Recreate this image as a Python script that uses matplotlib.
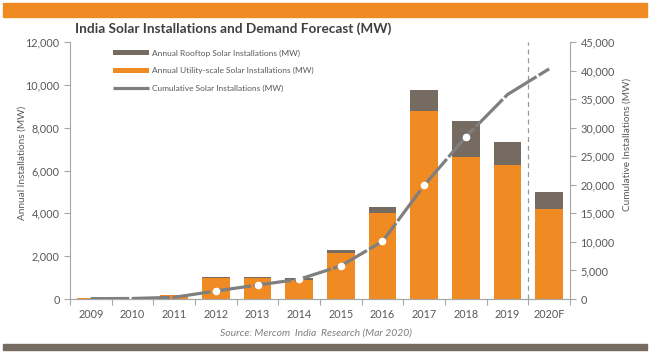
import matplotlib.pyplot as plt
import numpy as np

# data
years = ['2009', '2010', '2011', '2012', '2013', '2014', '2015', '2016', '2017', '2018', '2019', '2020F']
utility = [30, 10, 180, 960, 960, 880, 2130, 4030, 8800, 6650, 6250, 4200]
rooftop = [0, 0, 15, 50, 50, 90, 180, 280, 950, 1650, 1100, 800]
cumulative = [60, 90, 300, 1400, 2450, 3450, 5800, 10100, 19900, 28400, 35800, 40300]
marker_idx = [3, 4, 5, 6, 7, 8, 9]

orange = '#F08B23'
brown = '#766B60'
linegray = '#7F7F7F'
textgray = '#595959'

plt.rcParams['font.family'] = ['Lato', 'DejaVu Sans']

fig = plt.figure(figsize=(6.5, 3.52), dpi=100)
ax = fig.add_axes([70/650, 1 - 299/352, 500/650, 257/352])
ax2 = ax.twinx()

x = np.arange(len(years))
ax.bar(x, utility, width=0.66, color=orange, label='Annual Utility-scale Solar Installations (MW)', zorder=2)
ax.bar(x, rooftop, width=0.66, bottom=utility, color=brown, label='Annual Rooftop Solar Installations (MW)', zorder=2)

ax2.plot(x, cumulative, color=linegray, lw=2.3, dashes=(12, 0.8), solid_capstyle='butt',
         label='Cumulative Solar Installations (MW)', zorder=3)
ax2.plot(x[marker_idx], np.array(cumulative)[marker_idx], 'o', ms=4.5, mfc='white', mec='white', zorder=4)

ax.axvline(10.5, color='#999999', lw=0.9, ls=(0, (4, 3)), zorder=1)

ax.set_xlim(-0.5, 11.5)
ax.set_ylim(0, 12000)
ax2.set_ylim(0, 45000)
ax.set_yticks(np.arange(0, 12001, 2000))
ax2.set_yticks(np.arange(0, 45001, 5000))
ax.yaxis.set_major_formatter(plt.FuncFormatter(lambda v, p: f'{v:,.0f}'))
ax2.yaxis.set_major_formatter(plt.FuncFormatter(lambda v, p: f'{v:,.0f}'))
ax.set_xticks(x)
ax.set_xticklabels(years)
ax.set_xticks(np.arange(-0.5, 12, 1), minor=True)

for a in (ax, ax2):
    a.spines['top'].set_visible(False)
    for s in ('left', 'right', 'bottom'):
        a.spines[s].set_color('#A6A6A6')
        a.spines[s].set_linewidth(0.8)
    a.tick_params(colors='#A6A6A6', labelcolor=textgray, labelsize=7.8, length=4, width=0.8)
ax.tick_params(axis='x', which='major', length=0)
ax.tick_params(axis='x', which='minor', length=4, color='#A6A6A6', width=0.8)
ax.tick_params(axis='x', pad=7)
ax2.spines['left'].set_visible(False)
ax.spines['right'].set_visible(False)

ax.set_ylabel('Annual Installations (MW)', fontsize=7.2, color=textgray)
ax2.set_ylabel('Cumulative Installations (MW)', fontsize=7.2, color=textgray)
ax.yaxis.set_label_coords(-0.087, 0.53)
ax2.yaxis.set_label_coords(1.105, 0.6)

# legend in the custom order of the reference
h1, l1 = ax.get_legend_handles_labels()
h2, l2 = ax2.get_legend_handles_labels()
leg = ax.legend([h1[1], h1[0], h2[0]], [l1[1], l1[0], l2[0]], loc='upper left',
                bbox_to_anchor=(0.07, 1.0), frameon=False, fontsize=6, labelcolor=textgray,
                handlelength=4.4, handleheight=0.5, labelspacing=1.25, handletextpad=0.3)

fig.text(75/650, 1 - 29/352, 'India Solar Installations and Demand Forecast (MW)',
         fontsize=9.8, fontweight='bold', color='#404040', va='center')
fig.text(316/650, 1 - 333/352, 'Source: Mercom  India  Research (Mar 2020)',
         fontsize=7.5, style='italic', color='#7F7F7F', ha='center', va='center')

# top and bottom bands
fig.patches.append(plt.Rectangle((3/650, 1 - 17/352), 644/650, 14/352,
                                 transform=fig.transFigure, color=orange, zorder=0))
fig.patches.append(plt.Rectangle((3/650, 1 - 350/352), 644/650, 6/352,
                                 transform=fig.transFigure, color=brown, zorder=0))

fig.savefig('out.png', dpi=100)
